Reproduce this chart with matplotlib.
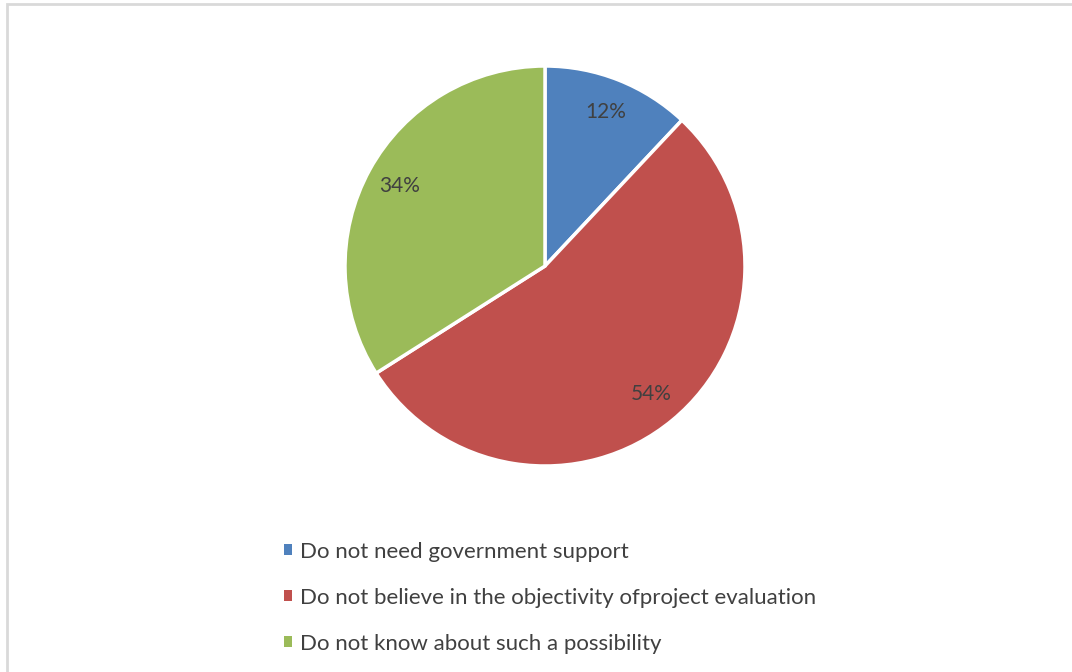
import matplotlib.pyplot as plt
from matplotlib.patches import Patch, Rectangle

labels = ['Do not need government support',
          'Do not believe in the objectivity ofproject evaluation',
          'Do not know about such a possibility']
shares = [12, 54, 34]
colors = ['#4F81BD', '#C0504D', '#9BBB59']

plt.rcParams['font.family'] = ['Lato', 'DejaVu Sans']
text_color = '#404040'

W, H = 1072, 672
fig = plt.figure(figsize=(W / 100, H / 100), dpi=100)

# chart area outline (runs off the right and bottom edges)
fig.patches.append(Rectangle((7 / W, -0.1), 1.2, (H - 4) / H + 0.1,
                             transform=fig.transFigure, fill=False,
                             edgecolor='#D9D9D9', linewidth=2))

cx, cy, r = 545, 266, 200
ax = fig.add_axes([(cx - r) / W, (H - cy - r) / H, 2 * r / W, 2 * r / H])
wedges, texts, autotexts = ax.pie(
    shares, colors=colors, startangle=90, counterclock=False,
    autopct='%d%%', pctdistance=0.83,
    wedgeprops=dict(edgecolor='white', linewidth=2.5),
    textprops=dict(color=text_color, fontsize=15))
ax.set_xlim(-1, 1)
ax.set_ylim(-1, 1)
ax.set_aspect('equal')
ax.axis('off')

handles = [Patch(facecolor=c, edgecolor='none') for c in colors]
fig.legend(handles, labels, loc='upper left',
           bbox_to_anchor=(284 / W, 1 - 541.5 / H), frameon=False,
           fontsize=16, labelcolor=text_color,
           handlelength=0.38, handleheight=0.38, handletextpad=0.35,
           labelspacing=1.17, borderpad=0, borderaxespad=0)

fig.savefig('out.png', dpi=100)
